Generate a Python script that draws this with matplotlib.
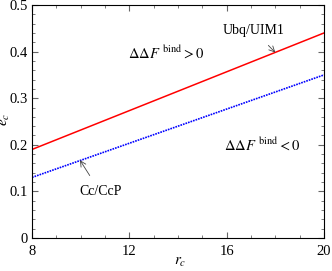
import matplotlib
matplotlib.use('Agg')
import matplotlib.pyplot as plt
from matplotlib.ticker import MultipleLocator

plt.rcParams['font.family'] = 'Liberation Serif'
plt.rcParams['mathtext.fontset'] = 'stix'

rc = [8, 20]
ubq = [0.19, 0.44]
cc = [0.13, 0.35]

fig = plt.figure(figsize=(3.32, 2.71), dpi=100)
ax = fig.add_axes([32/332, 1 - 238/271, 292/332, 233/271])

ax.plot(rc, ubq, color='red', lw=1.1)
ax.plot(rc, cc, color='blue', lw=1.2, ls=(0, (1, 0.6)))

ax.set_xlim(8, 20)
ax.set_ylim(0, 0.5)
ax.xaxis.set_major_locator(MultipleLocator(4))
ax.xaxis.set_minor_locator(MultipleLocator(1))
ax.set_yticks([0, 0.1, 0.2, 0.3, 0.4, 0.5])
ax.set_yticklabels(['0', '0.1', '0.2', '0.3', '0.4', '0.5'])
ax.yaxis.set_minor_locator(MultipleLocator(0.02))
ax.tick_params(which='both', direction='in', top=True, right=True, labelsize=10.5,
               color='#666666', pad=3)
ax.tick_params(axis='x', which='major', pad=5)
ax.tick_params(which='major', length=4)
ax.tick_params(which='minor', length=2.5)
for s in ax.spines.values():
    s.set_linewidth(0.8)

ax.set_xlabel(r'$r_c$', fontsize=11)
ax.set_ylabel(r'$e_c$', fontsize=11)
ax.xaxis.set_label_coords(0.507, -0.075)
ax.yaxis.set_label_coords(-0.07, 0.51)

ax.annotate('Ubq/UIM1', xy=(18.0, 0.398), xytext=(17.1, 0.446), fontsize=10,
            ha='center', va='center',
            arrowprops=dict(arrowstyle='->', color='#444444', lw=0.6, shrinkA=6, shrinkB=0))
ax.annotate('Cc/CcP', xy=(9.97, 0.167), xytext=(10.8, 0.099), fontsize=10,
            ha='center', va='center',
            arrowprops=dict(arrowstyle='->', color='#444444', lw=0.6, shrinkA=6, shrinkB=0))

ax.text(11.95, 0.397, r'$\Delta\Delta F^{\ \mathrm{bind}} > 0$', fontsize=10.5, va='center')
ax.text(15.9, 0.2, r'$\Delta\Delta F^{\ \mathrm{bind}} < 0$', fontsize=10.5, va='center')

fig.savefig('out.png', dpi=100)
